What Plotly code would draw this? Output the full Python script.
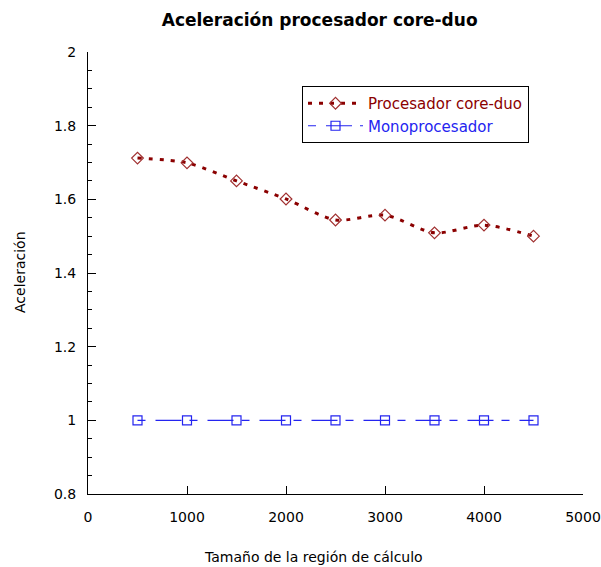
import plotly.graph_objects as go

x_vals = [500, 1000, 1500, 2000, 2500, 3000, 3500, 4000, 4500]
core_duo = [1.712, 1.699, 1.650, 1.601, 1.544, 1.557, 1.509, 1.530, 1.500]
mono = [1.0, 1.0, 1.0, 1.0, 1.0, 1.0, 1.0, 1.0, 1.0]

red = "#8B0000"
blue = "#2424F0"
font_family = "DejaVu Sans"

fig = go.Figure()
fig.add_trace(go.Scatter(
    x=x_vals, y=core_duo,
    name='<span style="color:#8B0000">Procesador core-duo</span>',
    mode="lines+markers",
    line=dict(color=red, width=3, dash="4px,7px", shape="spline", smoothing=0.8),
    marker=dict(symbol="diamond-open", size=9, color="#A03030", line=dict(width=1.2)),
))
fig.add_trace(go.Scatter(
    x=x_vals, y=mono,
    name='<span style="color:#2424F0">Monoprocesador</span>',
    mode="lines+markers",
    line=dict(color=blue, width=1.2, dash="8px,10px,26px,8px"),
    marker=dict(symbol="square-open", size=9, color=blue, line=dict(width=1.2)),
))

W, H = 601, 567
fig.update_layout(
    width=W, height=H,
    margin=dict(l=88, r=18, t=52, b=73),
    paper_bgcolor="white", plot_bgcolor="white",
    font=dict(family=font_family, size=14, color="black"),
    title=dict(text="<b>Aceleración procesador core-duo</b>", xref="paper", x=0.468,
               xanchor="center", yref="container", y=1 - 20 / H, yanchor="middle",
               font=dict(size=17, family=font_family)),
    showlegend=True,
    legend=dict(x=(302 - 88) / 495, y=(494 - 86) / 442, xanchor="left", yanchor="top",
                bordercolor="black", borderwidth=1, bgcolor="white",
                font=dict(size=15, family=font_family), tracegroupgap=0,
                itemwidth=55),
    annotations=[
        dict(text="Aceleración", xref="paper", yref="paper", x=0, y=(494 - 272) / 442,
             xshift=20 - 88, textangle=-90, showarrow=False, xanchor="center",
             yanchor="middle", font=dict(size=14)),
        dict(text="Tamaño de la región de cálculo", xref="paper", yref="paper",
             x=(313 - 88) / 495, y=0, yshift=-(557 - 494), showarrow=False,
             xanchor="center", yanchor="middle", font=dict(size=14)),
    ],
)
fig.update_xaxes(
    range=[0, 5000], tickvals=[0, 1000, 2000, 3000, 4000, 5000],
    showline=True, linecolor="black", linewidth=1, showgrid=False, zeroline=False,
    ticks="inside", ticklen=8, tickcolor="black", automargin=False,
    ticklabelstandoff=10,
)
fig.update_yaxes(
    range=[0.8, 2.0], tickvals=[0.8, 1, 1.2, 1.4, 1.6, 1.8, 2],
    ticktext=["0.8", "1", "1.2", "1.4", "1.6", "1.8", "2"],
    showline=True, linecolor="black", linewidth=1, showgrid=False, zeroline=False,
    ticks="inside", ticklen=8, tickcolor="black", automargin=False,
    ticklabelstandoff=8,
    minor=dict(dtick=0.05, tick0=0.8, ticks="inside", ticklen=4, tickcolor="black", showgrid=False),
)

fig.write_html(
    "out.html",
    config={"displayModeBar": False},
    post_script="document.body.style.margin='0';document.body.style.overflow='hidden';",
)
